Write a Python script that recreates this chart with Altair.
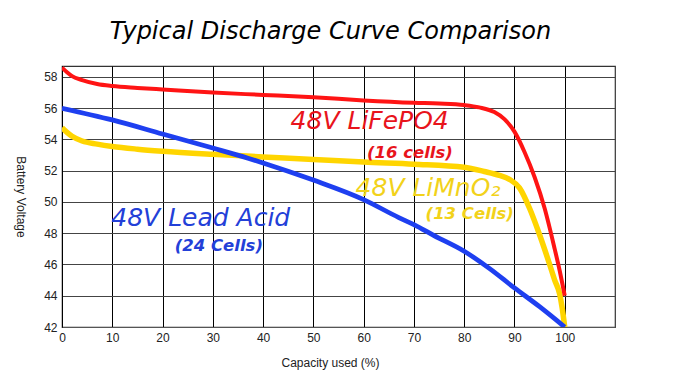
import altair as alt
import pandas as pd

# LiFePO4 (16 cells)
red_x = [0, 1, 2, 4, 7, 10, 15, 20, 30, 40, 50, 60, 70, 75, 80, 83, 86, 88, 90, 92, 94, 96, 98, 99, 100]
red_y = [58.6, 58.3, 58.05, 57.8, 57.55, 57.42, 57.3, 57.2, 57.0, 56.85, 56.7, 56.5, 56.35, 56.3, 56.2,
         56.05, 55.75, 55.3, 54.5, 53.2, 51.6, 49.6, 47.0, 45.6, 44.0]
# LiMnO2 (13 cells)
yel_x = [0, 1, 2, 4, 7, 10, 15, 20, 30, 40, 50, 60, 70, 80, 84, 87, 89, 91, 93, 95, 97, 98, 99, 99.5, 100]
yel_y = [54.75, 54.45, 54.2, 53.9, 53.7, 53.55, 53.38, 53.25, 53.05, 52.88, 52.72, 52.55, 52.42, 52.22,
         51.95, 51.7, 51.45, 50.9, 49.6, 47.9, 46.0, 45.0, 44.1, 43.2, 42.0]
# Lead Acid (24 cells)
blu_x = [0, 10, 20, 30, 37, 40, 50, 60, 67, 70, 74, 80, 85, 90, 95, 100]
blu_y = [56.0, 55.25, 54.35, 53.45, 52.8, 52.5, 51.4, 50.15, 49.0, 48.55, 47.85, 46.85, 45.75, 44.5, 43.3, 42.0]

series_names = ["LiMnO2", "Lead Acid", "LiFePO4"]
series_colors = ["#ffd500", "#1e3ff0", "#ff1414"]
x_ticks = [0, 10, 20, 30, 40, 50, 60, 70, 80, 90, 100]
y_ticks = [42, 44, 46, 48, 50, 52, 54, 56, 58]

# annotations
ann_text = ["48V LiFePO4", "(16 cells)", "48V LiMnO₂", "(13 Cells)", "48V Lead Acid", "(24 Cells)"]
ann_x = [61.2, 69.2, 72.8, 81.1, 27.6, 31.2]
ann_y = [55.2, 53.15, 50.9, 49.26, 49.0, 47.2]
ann_series = ["LiFePO4", "LiFePO4", "LiMnO2", "LiMnO2", "Lead Acid", "Lead Acid"]
ann_kind = ["name", "cells", "name", "cells", "name", "cells"]
text_colors = {"LiFePO4": "#e8141c", "LiMnO2": "#f2d21a", "Lead Acid": "#2340d8"}

rows = []
for name, xs_, ys_ in [("LiMnO2", yel_x, yel_y), ("Lead Acid", blu_x, blu_y), ("LiFePO4", red_x, red_y)]:
    for i, (a, b) in enumerate(zip(xs_, ys_)):
        rows.append({"series": name, "cap": a, "volt": b, "order": i})
df = pd.DataFrame(rows)

ann = pd.DataFrame({"text": ann_text, "cap": ann_x, "volt": ann_y,
                    "series": ann_series, "kind": ann_kind})

xs = alt.Scale(domain=[0, 110], nice=False, zero=False)
ys = alt.Scale(domain=[42, 58.7], nice=False, zero=False)

x_axis = alt.Axis(values=x_ticks, title="Capacity used (%)", grid=True,
                  gridColor="#000000", gridWidth=1, gridOpacity=1,
                  domainColor="#555555", ticks=False, labelPadding=5,
                  labelFont="Liberation Sans", labelFontSize=12, labelColor="#222",
                  titleFont="Liberation Sans", titleFontSize=12, titleFontWeight="normal",
                  titleColor="#222", titlePadding=14, labelFlush=False,
                  labelOverlap=False, titleX=268)
y_axis = alt.Axis(values=y_ticks, tickCount=9, title="Battery Voltage", grid=True,
                  gridColor="#444444", gridWidth=1.2, gridOpacity=1,
                  domainColor="#000000", ticks=False, labelPadding=5,
                  labelFont="Liberation Sans", labelFontSize=12, labelColor="#222",
                  titleFont="Liberation Sans", titleFontSize=12, titleFontWeight="normal",
                  titleColor="#222", titleAngle=90, titlePadding=30, labelFlush=False,
                  labelOverlap=False, labelBound=False, labelSeparation=0)

lines = alt.Chart(df).mark_line(interpolate="monotone", clip=True).encode(
    x=alt.X("cap:Q", scale=xs, axis=x_axis),
    y=alt.Y("volt:Q", scale=ys, axis=y_axis),
    color=alt.Color("series:N", scale=alt.Scale(domain=series_names, range=series_colors), legend=None),
    strokeWidth=alt.StrokeWidth("series:N", scale=alt.Scale(domain=series_names, range=[5.5, 4, 5]),
                                legend=None),
    detail="series:N",
    order="order:Q",
)

tcolor = alt.Color("series:N", scale=alt.Scale(domain=list(text_colors), range=list(text_colors.values())),
                   legend=None)
big = alt.Chart(ann).transform_filter(alt.datum.kind == "name").mark_text(
    fontSize=25, font="DejaVu Sans", fontStyle="italic", align="center", baseline="middle"
).encode(x="cap:Q", y="volt:Q", text="text:N", color=tcolor)
small = alt.Chart(ann).transform_filter(alt.datum.kind == "cells").mark_text(
    fontSize=16.5, font="DejaVu Sans", fontStyle="italic", fontWeight="bold", align="center", baseline="middle"
).encode(x="cap:Q", y="volt:Q", text="text:N", color=tcolor)
texts = alt.layer(big, small).resolve_scale(color="shared")

chart = alt.layer(lines, texts).resolve_scale(color="independent").properties(
    width=553, height=261,
    title=alt.TitleParams("Typical Discharge Curve Comparison", font="DejaVu Sans", fontStyle="italic",
                          fontWeight="normal", fontSize=24, color="#000", anchor="middle", offset=22,
                          dx=-8),
    autosize=alt.AutoSizeParams(type="none"),
    padding={"left": 54, "top": 58, "right": 50, "bottom": 54},
).configure_view(stroke="#333333", strokeWidth=1.2).configure_axisY(labelOverlap=False)

chart.save("out.html", embed_options={"renderer": "svg", "actions": False})
